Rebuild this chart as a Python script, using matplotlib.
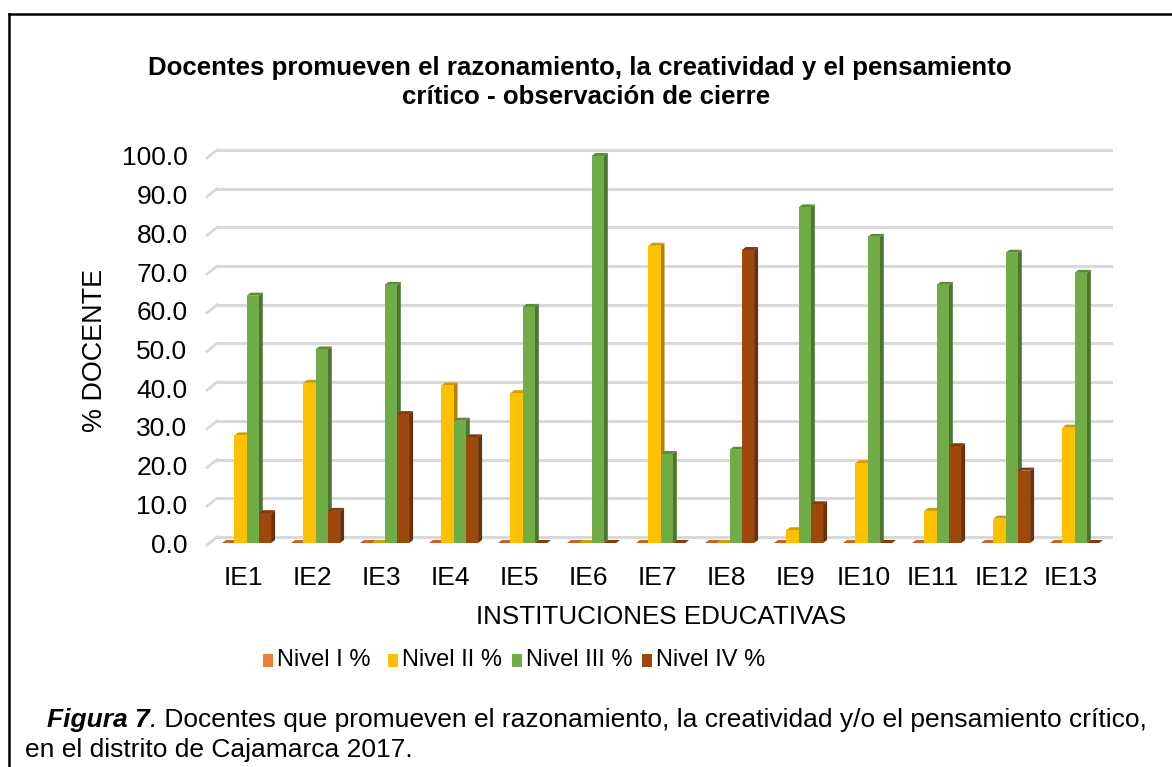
import numpy as np
import matplotlib
matplotlib.use("Agg")
import matplotlib.pyplot as plt
from matplotlib.patches import Polygon, Rectangle
from matplotlib.lines import Line2D
from matplotlib.colors import to_rgb

plt.rcParams['font.family'] = ['Liberation Sans', 'DejaVu Sans']

# Datos
instituciones = ["IE1", "IE2", "IE3", "IE4", "IE5", "IE6", "IE7",
                 "IE8", "IE9", "IE10", "IE11", "IE12", "IE13"]
nivel_1 = [0, 0, 0, 0, 0, 0, 0, 0, 0, 0, 0, 0, 0]
nivel_2 = [27.8, 41.4, 0, 40.7, 38.7, 0, 76.8, 0, 3.3, 20.6, 8.3, 6.3, 29.8]
nivel_3 = [63.9, 50.0, 66.7, 31.6, 61.0, 100.0, 23.0, 24.1, 86.7, 79.1, 66.7, 75.0, 69.8]
nivel_4 = [7.7, 8.3, 33.3, 27.3, 0, 0, 0, 75.7, 10.0, 0, 25.0, 18.7, 0]
series = [nivel_1, nivel_2, nivel_3, nivel_4]
etiquetas = ["Nivel I %", "Nivel II %", "Nivel III %", "Nivel IV %"]
colores = ["#ED7D31", "#FFC000", "#70AD47", "#9E480E"]

W, H = 1172, 767
fig = plt.figure(figsize=(W / 100, H / 100), dpi=100)

# area del grafico en pixeles
px_left, px_right, px_top, px_bot = 200, 1120, 140, 560
ax = fig.add_axes([px_left / W, 1 - px_bot / H,
                   (px_right - px_left) / W, (px_bot - px_top) / H])
ax.set_xlim(-0.674, 12.659)
ax.set_ylim(-4.39, 104.13)
for s in ax.spines.values():
    s.set_visible(False)
ax.tick_params(length=0)

# perspectiva
dx, dy = 0.058, 0.78
back = 1.55
grid_x0, grid_x1 = -0.428, 12.53

yticks = np.arange(0, 101, 10)
for v in yticks:
    ax.plot([grid_x0 - 0.145, grid_x0], [v - 0.52, v + back], color="#d9d9d9", lw=2, zorder=1)
    ax.plot([grid_x0, grid_x1], [v + back, v + back], color="#d9d9d9", lw=2.2, zorder=1)

def shade(c, f):
    r, g, b = to_rgb(c)
    return (r * f, g * f, b * f)

bw = 0.178
n = len(series)
for i in range(len(instituciones)):
    x_start = i - n * bw / 2
    for k, vals in enumerate(series):
        x0 = x_start + k * bw
        v = vals[i]
        c = colores[k]
        z = 2 + k * 0.1 + i
        side = Polygon([(x0 + bw, 0), (x0 + bw + dx, dy), (x0 + bw + dx, v + dy), (x0 + bw, v)],
                       closed=True, facecolor=shade(c, 0.68), edgecolor="none", zorder=z)
        top = Polygon([(x0, v), (x0 + bw, v), (x0 + bw + dx, v + dy), (x0 + dx, v + dy)],
                      closed=True, facecolor=shade(c, 0.82), edgecolor="none", zorder=z)
        front = Rectangle((x0, 0), bw, v, facecolor=c, edgecolor="none", zorder=z + 0.05)
        ax.add_patch(side)
        ax.add_patch(top)
        ax.add_patch(front)

ax.set_xticks(np.arange(len(instituciones)) - 0.05)
ax.set_xticklabels(instituciones, fontsize=19)
ax.set_yticks(yticks)
ax.set_yticklabels([f"{v:.1f}" for v in yticks], fontsize=19)
ax.tick_params(axis="x", pad=4)
ax.tick_params(axis="y", pad=9)

def fx(p):
    return p / W

def fy(p):
    return 1 - p / H

# titulos
fig.text(fx(580), fy(68), "Docentes promueven el razonamiento, la creatividad y el pensamiento",
         ha="center", va="center", fontsize=18.6, fontweight="bold")
fig.text(fx(586), fy(97), "crítico - observación de cierre",
         ha="center", va="center", fontsize=18.6, fontweight="bold")
fig.text(fx(95), fy(350), "% DOCENTE", rotation=90, ha="center", va="center", fontsize=19.4)
fig.text(fx(661), fy(617), "INSTITUCIONES EDUCATIVAS", ha="center", va="center", fontsize=18.7)

# leyenda
leg_sq = [263, 388, 512, 642]
for xs, c, lab in zip(leg_sq, colores, etiquetas):
    fig.patches.append(Rectangle((fx(xs), fy(667)), 10 / W, 13 / H,
                                 transform=fig.transFigure, facecolor=c, edgecolor="none"))
    fig.text(fx(xs + 14), fy(660), lab, ha="left", va="center", fontsize=17)

# pie de figura
renderer = fig.canvas.get_renderer()
t1 = fig.text(fx(47), fy(720), "Figura 7", ha="left", va="center", fontsize=19,
              fontweight="bold", fontstyle="italic")
bb = t1.get_window_extent(renderer)
t2 = fig.text(bb.x1 / W, fy(720), ".", ha="left", va="center", fontsize=19, fontstyle="italic")
bb2 = t2.get_window_extent(renderer)
fig.text(bb2.x1 / W, fy(720),
         " Docentes que promueven el razonamiento, la creatividad y/o el pensamiento crítico,",
         ha="left", va="center", fontsize=19)
fig.text(fx(25), fy(750), "en el distrito de Cajamarca 2017.", ha="left", va="center", fontsize=19)

# marco
fig.lines.append(Line2D([fx(9), fx(9)], [fy(14), 0], transform=fig.transFigure, color="black", lw=1.8))
fig.lines.append(Line2D([fx(9), 1], [fy(14), fy(14)], transform=fig.transFigure, color="black", lw=1.8))

fig.savefig("out.png", dpi=100)
